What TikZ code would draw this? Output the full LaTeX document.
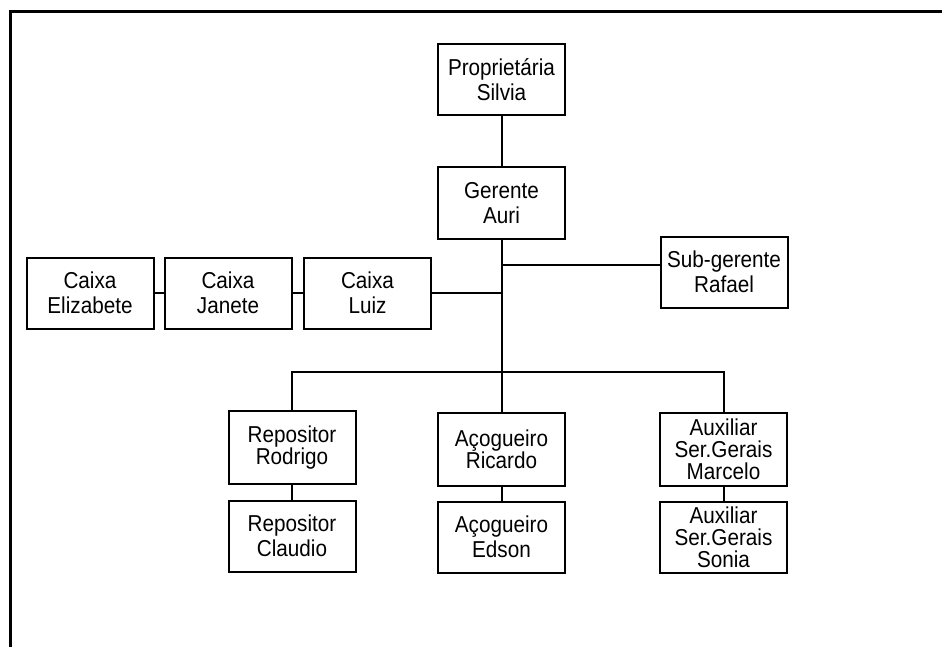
\documentclass[tikz,border=0pt]{standalone}
\usepackage{fontspec}
\setmainfont[FakeStretch=0.9]{Liberation Sans}
\begin{document}
\begin{tikzpicture}[x=1pt,y=-1pt,
  unitbox/.style={draw,line width=2pt,minimum width=127pt,minimum height=71pt,inner sep=0pt,align=center,font=\fontsize{23}{25}\selectfont},
  tallbox/.style={unitbox,minimum height=73pt,font=\fontsize{23}{22}\selectfont},
  link/.style={line width=2pt}]
\useasboundingbox (0,0) rectangle (942,647);
%Frame
\draw[line width=3pt] (10,647) -- (10,12) -- (942,12);
%Top
\node[unitbox] (prop) at (501.5,80) {Proprietária\\Silvia};
\node[unitbox] (ger) at (501.5,203) {Gerente\\Auri};
\node[unitbox] (sub) at (724,272) {Sub-gerente\\Rafael};
%Caixas
\node[unitbox] (eliz) at (90,293) {Caixa\\Elizabete};
\node[unitbox] (jan) at (228,293) {Caixa\\Janete};
\node[unitbox] (luiz) at (367.5,293) {Caixa\\Luiz};
%Bottom rows
\node[tallbox] (rod) at (292,447.5) {Repositor\\Rodrigo};
\node[tallbox] (ric) at (501.5,449.5) {Açogueiro\\Ricardo};
\node[tallbox] (mar) at (723.5,449.5) {Auxiliar\\Ser.Gerais\\Marcelo};
\node[unitbox] (cla) at (292,536) {Repositor\\Claudio};
\node[unitbox] (eds) at (501.5,537) {Açogueiro\\Edson};
\node[unitbox,font=\fontsize{23}{22}\selectfont] (son) at (723.5,537) {Auxiliar\\Ser.Gerais\\Sonia};
\coordinate (subj) at (501.5,265);
\coordinate (bus) at (501.5,372);
%Connectors
\draw[link] (prop) -- (ger);
\draw[link] (ger) -- (ric);
\draw[link] (subj) -- (subj -| sub.west);
\draw[link] (luiz) -- (luiz -| ger.south);
\draw[link] (eliz) -- (jan);
\draw[link] (jan) -- (luiz);
\draw[link] (rod.north) |- (bus) -| (mar.north);
\draw[link] (rod) -- (cla);
\draw[link] (ric) -- (eds);
\draw[link] (mar) -- (son);
\end{tikzpicture}
\end{document}
